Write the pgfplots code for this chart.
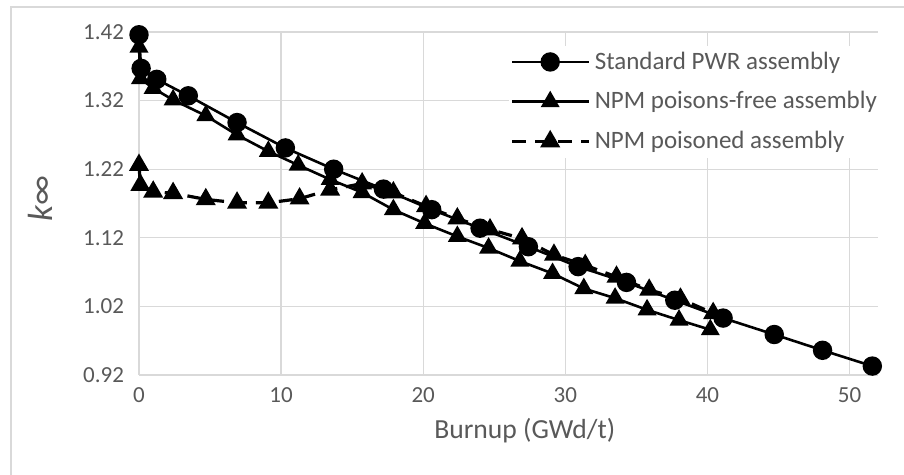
\documentclass[border=0pt]{standalone}
\usepackage{fontspec}
\setmainfont{Carlito}
\usepackage{pgfplots}
\pgfplotsset{compat=1.18}
\definecolor{txt}{HTML}{595959}
\definecolor{grd}{HTML}{D9D9D9}
\definecolor{frm}{HTML}{D9D9D9}

\pgfplotstableread{
x y
0 1.416
0.15 1.367
1.25 1.351
3.47 1.327
6.9 1.288
10.3 1.251
13.7 1.220
17.2 1.191
20.6 1.161
24.0 1.134
27.4 1.107
30.9 1.078
34.3 1.055
37.7 1.029
41.1 1.003
44.7 0.979
48.1 0.956
51.6 0.933
}\standard

\pgfplotstableread{
x y
0 1.398
0.1 1.352
1.0 1.338
2.4 1.321
4.7 1.298
6.9 1.270
9.1 1.246
11.2 1.226
13.45 1.205
15.7 1.186
17.9 1.161
20.1 1.141
22.4 1.122
24.6 1.105
26.8 1.086
29.1 1.068
31.3 1.046
33.5 1.032
35.75 1.015
38.0 1.000
40.2 0.986
}\free

\pgfplotstableread{
x y
0 1.226
0.1 1.197
1.0 1.187
2.4 1.185
4.7 1.176
6.9 1.171
9.1 1.171
11.3 1.177
13.45 1.190
15.7 1.199
17.9 1.186
20.2 1.166
22.4 1.148
24.7 1.132
26.95 1.119
29.2 1.095
31.4 1.080
33.6 1.063
35.9 1.044
38.1 1.031
40.4 1.010
}\poisoned

\begin{document}
\begin{tikzpicture}
\useasboundingbox (-69.5pt,-50pt) rectangle (382.5pt,187.5pt);
\draw[frm,line width=0.8pt] (-64pt,-50pt) -- (-64pt,184pt) -- (382.5pt,184pt);
\begin{axis}[at={(0,0)},anchor=south west,scale only axis,
 width=369.5pt,height=171.5pt,
 xmin=0,xmax=52,ymin=0.92,ymax=1.42,
 xtick={0,10,...,50},ytick={0.92,1.02,1.12,1.22,1.32,1.42},
 yticklabel style={/pgf/number format/fixed,/pgf/number format/precision=2,
   /pgf/number format/fixed zerofill,xshift=-4pt},
 /pgf/number format/assume math mode=true,
 grid=major,grid style={grd,line width=0.7pt},
 axis line style={draw=none},tick style={draw=none},
 tick label style={font=\fontsize{11.5}{13}\selectfont,text=txt},
 xticklabel style={yshift=-3pt},
 xlabel={Burnup (GWd/t)},
 xlabel style={font=\fontsize{13.8}{16}\selectfont,text=txt,
   at={(axis description cs:0.522,-0.184)},anchor=base},
 ylabel={\textit{k}∞},
 ylabel style={font=\fontsize{17.5}{20}\selectfont,text=txt,
   at={(axis description cs:-0.134,0.515)},anchor=center},
 clip=false,
 legend cell align=left,
 legend style={at={(0.4996,0.961)},anchor=north west,draw=none,fill=white,
   font=\fontsize{12.5}{15}\selectfont,text=txt,row sep=5.7pt,inner sep=1pt},
 legend image code/.code={\draw[mark repeat=2,mark phase=2,#1]
   plot coordinates {(0pt,0pt) (19pt,0pt) (38.5pt,0pt)};},
]
\addplot[black,line width=1.3pt,mark=*,mark size=4.2pt] table[x=x,y=y]{\standard};
\addlegendentry{Standard PWR assembly}
\addplot[black,line width=1.3pt,mark=triangle*,mark size=4.2pt] table[x=x,y=y]{\free};
\addlegendentry{NPM poisons-free assembly}
\addplot[black,line width=1.6pt,dash pattern=on 7pt off 4.5pt,mark=triangle*,mark size=4.2pt,
  mark options={solid}] table[x=x,y=y]{\poisoned};
\addlegendentry{NPM poisoned assembly}
\end{axis}
\end{tikzpicture}
\end{document}
